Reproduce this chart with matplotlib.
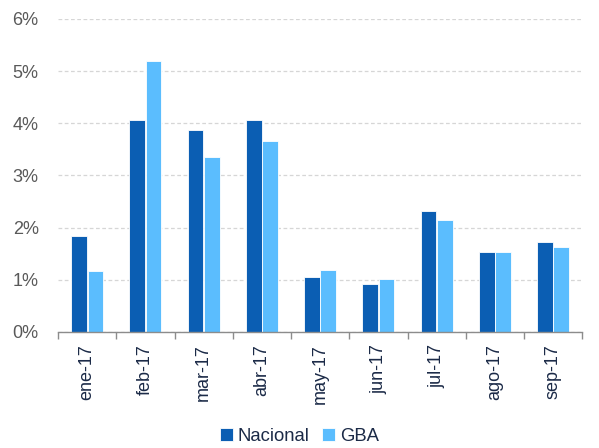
import matplotlib
matplotlib.use("Agg")
import matplotlib.pyplot as plt
import numpy as np
from matplotlib.ticker import FixedLocator, FuncFormatter

plt.rcParams['font.family'] = ['Liberation Sans', 'DejaVu Sans']

categories = ["ene-17", "feb-17", "mar-17", "abr-17", "may-17", "jun-17", "jul-17", "ago-17", "sep-17"]
nacional = [1.84, 4.07, 3.87, 4.07, 1.06, 0.91, 2.31, 1.53, 1.72]
gba = [1.16, 5.19, 3.35, 3.66, 1.19, 1.01, 2.14, 1.53, 1.62]

c_nac = "#0B5EB3"
c_gba = "#5BBDFE"

fig = plt.figure(figsize=(5.99, 4.48), dpi=100)
ax = fig.add_axes([0.097, 0.259, 0.875, 0.699])

x = np.arange(len(categories))
w = 0.27
ax.bar(x - 0.14, nacional, w, color=c_nac, edgecolor="white", linewidth=0.6, label="Nacional", zorder=3)
ax.bar(x + 0.14, gba, w, color=c_gba, edgecolor="white", linewidth=0.6, label="GBA", zorder=3)

ax.set_xlim(-0.5, len(categories) - 0.5)
ax.set_ylim(0, 6)
ax.set_yticks(np.arange(0, 7, 1))
ax.yaxis.set_major_formatter(FuncFormatter(lambda v, p: f"{int(v)}%"))
ax.grid(axis="y", color="#D6D6D6", linestyle=(0, (3, 2)), linewidth=0.9, zorder=0)
ax.tick_params(axis="y", length=0, labelsize=13, labelcolor="#595959", pad=14)

ax.xaxis.set_major_locator(FixedLocator(np.arange(-0.5, len(categories), 1)))
ax.xaxis.set_minor_locator(FixedLocator(x))
ax.set_xticklabels([], minor=False)
ax.set_xticklabels(categories, minor=True, rotation=90, fontsize=13, color="#1B2A47")
ax.tick_params(axis="x", which="major", length=5, color="#8C8C8C", width=1)
ax.tick_params(axis="x", which="minor", length=0, pad=9)

for s in ["top", "right", "left"]:
    ax.spines[s].set_visible(False)
ax.spines["bottom"].set_color("#8C8C8C")
ax.spines["bottom"].set_linewidth(1)
ax.spines["bottom"].set_zorder(4)

leg = fig.legend(loc="lower center", bbox_to_anchor=(0.5, -0.03), ncol=2, frameon=False,
                 fontsize=13.3, handlelength=0.7, handleheight=0.7, handletextpad=0.25,
                 columnspacing=0.7)
for t in leg.get_texts():
    t.set_color("#1B2A47")

fig.savefig("out.png", dpi=100)
